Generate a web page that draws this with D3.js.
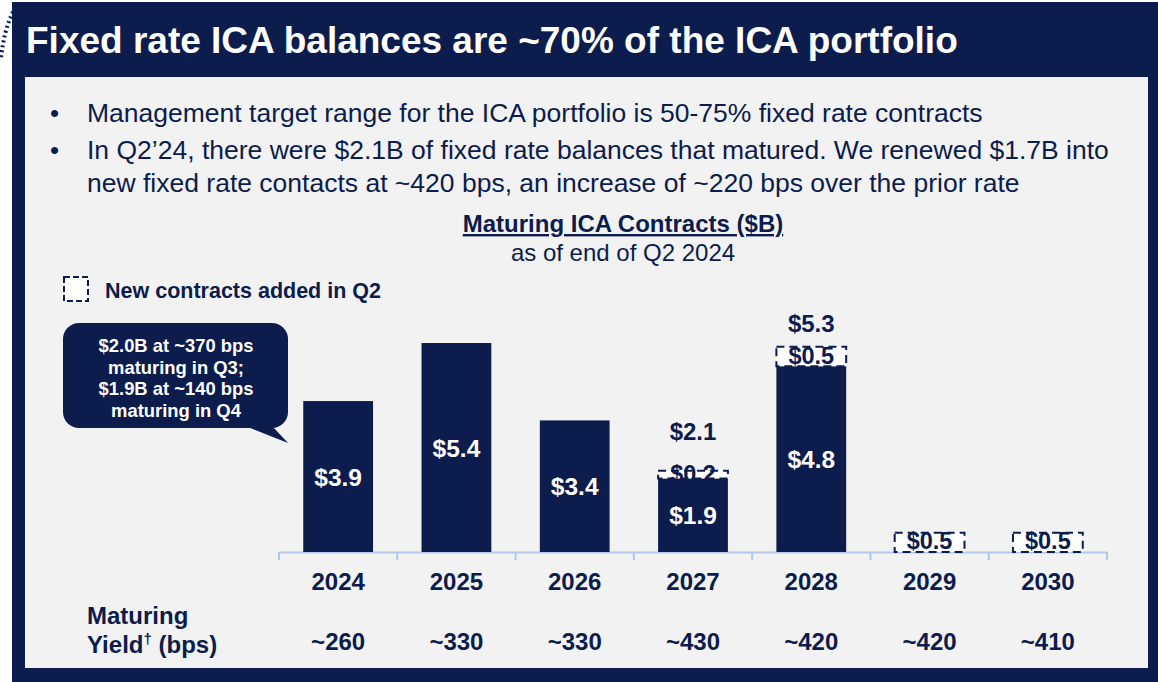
<!DOCTYPE html>
<html>
<head>
<meta charset="utf-8">
<script src="https://cdn.jsdelivr.net/npm/d3@7"></script>
<style>
  html, body { margin: 0; padding: 0; background: #fff; }
  svg { display: block; font-family: "Liberation Sans", Arial, sans-serif; }
</style>
</head>
<body>
<div id="chart"></div>
<script>
// Data
const years = ['2024', '2025', '2026', '2027', '2028', '2029', '2030'];
const existing = [3.9, 5.4, 3.4, 1.9, 4.8, 0, 0];
const addedQ2 = [0, 0, 0, 0.2, 0.5, 0.5, 0.5];
const totals = [null, null, null, 2.1, 5.3, null, null];
const yields = ['~260', '~330', '~330', '~430', '~420', '~420', '~410'];
const bullets = [
  ['Management target range for the ICA portfolio is 50-75% fixed rate contracts'],
  ['In Q2\u201924, there were $2.1B of fixed rate balances that matured. We renewed $1.7B into',
   'new fixed rate contacts at ~420 bps, an increase of ~220 bps over the prior rate']
];
const calloutLines = ['$2.0B at ~370 bps', 'maturing in Q3;', '$1.9B at ~140 bps', 'maturing in Q4'];

const W = 1158, H = 682;
const NAVY = '#0c1c4c';
const PANEL = '#f2f2f2';
const AXIS = '#b4c7e7';

const svg = d3.select('#chart').append('svg')
  .attr('width', W).attr('height', H);

// Frame
svg.append('rect').attr('x', 12).attr('y', 2).attr('width', W - 12).attr('height', H - 2).attr('fill', NAVY);
svg.append('rect').attr('x', 25).attr('y', 77).attr('width', 1123).attr('height', 591).attr('fill', PANEL);

// little dotted arc poking out on the left
svg.append('path')
  .attr('d', 'M 13 12 Q 4 30 1 58')
  .attr('fill', 'none').attr('stroke', NAVY).attr('stroke-width', 4)
  .attr('stroke-dasharray', '2 3');

// Title
svg.append('text')
  .attr('x', 26).attr('y', 53)
  .attr('fill', '#fff').attr('font-size', 37).attr('font-weight', 'bold')
  .text('Fixed rate ICA balances are ~70% of the ICA portfolio');

// Bullets
const bulletY = [122, 159];
bullets.forEach((lines, b) => {
  svg.append('text').attr('x', 50).attr('y', bulletY[b]).attr('fill', NAVY).attr('font-size', 26).text('\u2022');
  lines.forEach((l, i) => {
    svg.append('text').attr('x', 87).attr('y', bulletY[b] + i * 33).attr('fill', NAVY).attr('font-size', 26.5).text(l);
  });
});

// Chart title
svg.append('text').attr('x', 623).attr('y', 232).attr('text-anchor', 'middle')
  .attr('fill', NAVY).attr('font-size', 24).attr('font-weight', 'bold')
  .attr('text-decoration', 'underline')
  .text('Maturing ICA Contracts ($B)');
svg.append('text').attr('x', 623).attr('y', 261).attr('text-anchor', 'middle')
  .attr('fill', NAVY).attr('font-size', 24)
  .text('as of end of Q2 2024');

// Legend
svg.append('rect').attr('x', 64).attr('y', 277).attr('width', 24).attr('height', 24)
  .attr('fill', '#fff').attr('stroke', NAVY).attr('stroke-width', 2).attr('stroke-dasharray', '6 3');
svg.append('text').attr('x', 105).attr('y', 298).attr('fill', NAVY)
  .attr('font-size', 21.5).attr('font-weight', 'bold').text('New contracts added in Q2');

// Scales
const baseY = 552;
const x = d3.scaleBand().domain(years).range([279, 1107]).paddingInner(0.41).paddingOuter(0.205);
const y = d3.scaleLinear().domain([0, 5.4]).range([baseY, 343]);
const bw = x.bandwidth();

// Axis (ticks at category boundaries)
const edges = d3.range(years.length + 1).map(i => 279 + i * (1107 - 279) / years.length);
const axisG = svg.append('g');
axisG.append('line').attr('x1', 279).attr('x2', 1107).attr('y1', baseY + 0.5).attr('y2', baseY + 0.5)
  .attr('stroke', AXIS).attr('stroke-width', 2);
axisG.selectAll('line.tick').data(edges).enter().append('line').attr('class', 'tick')
  .attr('x1', d => d).attr('x2', d => d).attr('y1', baseY).attr('y2', baseY + 8)
  .attr('stroke', AXIS).attr('stroke-width', 2);

// Bars
const withBar = years.filter((d, i) => existing[i] > 0);
svg.selectAll('rect.bar').data(withBar).enter().append('rect')
  .attr('class', 'bar')
  .attr('x', d => x(d)).attr('width', bw)
  .attr('y', d => y(existing[years.indexOf(d)]))
  .attr('height', d => baseY - y(existing[years.indexOf(d)]))
  .attr('fill', NAVY);

// Bar labels (white)
svg.selectAll('text.barlbl').data(withBar).enter().append('text')
  .attr('class', 'barlbl')
  .attr('x', d => x(d) + bw / 2)
  .attr('y', d => (y(existing[years.indexOf(d)]) + baseY) / 2 + 9)
  .attr('text-anchor', 'middle').attr('fill', '#fff')
  .attr('font-size', 24.5).attr('font-weight', 'bold')
  .text(d => '$' + existing[years.indexOf(d)].toFixed(1));

// New contract dashed segments
const added = years.filter((d, i) => addedQ2[i] > 0);
const addedMid = d => { const i = years.indexOf(d); return (y(existing[i]) + y(existing[i] + addedQ2[i])) / 2 - 2; };
const addedH = d => { const i = years.indexOf(d); return y(existing[i]) - y(existing[i] + addedQ2[i]); };
svg.selectAll('rect.added').data(added).enter().append('rect')
  .attr('class', 'added')
  .attr('x', d => x(d)).attr('width', bw)
  .attr('y', d => { const i = years.indexOf(d); return y(existing[i] + addedQ2[i]); })
  .attr('height', addedH)
  .attr('fill', '#fff').attr('stroke', NAVY).attr('stroke-width', 2).attr('stroke-dasharray', '8 5');
svg.selectAll('text.addlbl').data(added).enter().append('text')
  .attr('class', 'addlbl')
  .attr('x', d => x(d) + bw / 2)
  .attr('y', d => addedMid(d) + 9)
  .attr('text-anchor', 'middle').attr('fill', NAVY)
  .attr('font-size', 23.5).attr('font-weight', 'bold')
  .text(d => '$' + addedQ2[years.indexOf(d)].toFixed(1));

// Totals above stacked bars (pushed higher when the new-contract box is thin)
svg.selectAll('text.total').data(years.filter((d, i) => totals[i] != null)).enter().append('text')
  .attr('class', 'total')
  .attr('x', d => x(d) + bw / 2)
  .attr('y', d => y(totals[years.indexOf(d)]) - 15 - (addedH(d) < 12 ? 16 : 0))
  .attr('text-anchor', 'middle').attr('fill', NAVY)
  .attr('font-size', 24).attr('font-weight', 'bold')
  .text(d => '$' + totals[years.indexOf(d)].toFixed(1));

// Year labels
svg.selectAll('text.year').data(years).enter().append('text')
  .attr('class', 'year')
  .attr('x', d => x(d) + bw / 2).attr('y', 590)
  .attr('text-anchor', 'middle').attr('fill', NAVY)
  .attr('font-size', 24).attr('font-weight', 'bold').text(d => d);

// Yield row
svg.selectAll('text.yield').data(years).enter().append('text')
  .attr('class', 'yield')
  .attr('x', d => x(d) + bw / 2).attr('y', 650)
  .attr('text-anchor', 'middle').attr('fill', NAVY)
  .attr('font-size', 24).attr('font-weight', 'bold').text((d, i) => yields[i]);
const yl = svg.append('text').attr('x', 87).attr('fill', NAVY).attr('font-size', 24).attr('font-weight', 'bold');
yl.append('tspan').attr('x', 87).attr('y', 624).text('Maturing');
yl.append('tspan').attr('x', 87).attr('y', 653).text('Yield');
yl.append('tspan').attr('font-size', 15).attr('dy', -9).text('\u2020');
yl.append('tspan').attr('dy', 9).text(' (bps)');

// Callout bubble
svg.append('path')
  .attr('d', 'M 245 426 L 288 443 L 272 426 Z')
  .attr('fill', NAVY);
svg.append('rect').attr('x', 63).attr('y', 323).attr('width', 225).attr('height', 105)
  .attr('rx', 16).attr('fill', NAVY);
calloutLines.forEach((l, i) => {
  svg.append('text').attr('x', 176).attr('y', 352 + i * 21.7)
    .attr('text-anchor', 'middle').attr('fill', '#fff')
    .attr('font-size', 18.4).attr('font-weight', 'bold').text(l);
});
</script>
</body>
</html>
